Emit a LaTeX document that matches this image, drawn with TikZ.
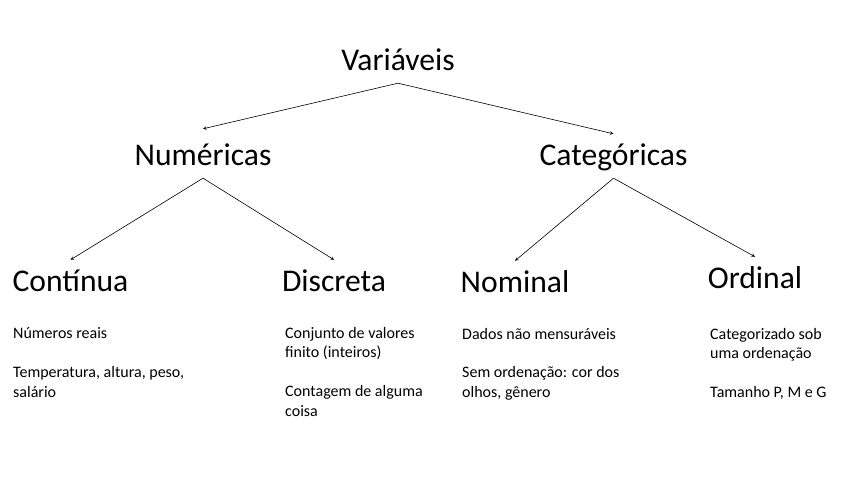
\documentclass[tikz,border=0pt]{standalone}
\usepackage{fontspec}
\setmainfont{Carlito}
\usetikzlibrary{positioning}

\begin{document}
\begin{tikzpicture} [x=1pt, y=-1pt,
            level/.style = {font=\fontsize{31.6}{38}\selectfont,
                anchor=base,
                inner xsep=0pt, inner ysep=12pt,
                text height=20pt, text depth=0pt},
            note/.style = {font=\fontsize{16}{19.4}\selectfont,
                anchor=base west,
                align=left,
                inner sep=0pt}]

            \useasboundingbox (0,0) rectangle (849,478);

            % Root
            \node (var) [level] at (398,71) {Variáveis};

            % Second level
            \node (num) [level] at (203,166) {Numéricas};
            \node (cat) [level] at (613.5,166) {Categóricas};

            % Third level
            \node (cont) [level] at (70.5,292) {Contínua};
            \node (disc) [level] at (334,292) {Discreta};
            \node (nomi) [level] at (515,293) {Nominal};
            \node (ordi) [level] at (755,289) {Ordinal};

            % Notes (placed at the baseline of their last line)
            \node (contA) [note] at (13,339) {Números reais};
            \node (contB) [note] at (13,397) {Temperatura, altura, peso,\\salário};
            \node (discA) [note] at (285,358) {Conjunto de valores\\finito (inteiros)};
            \node (discB) [note] at (285,416) {Contagem de alguma\\coisa};
            \node (nomiA) [note] at (462,340) {Dados não mensuráveis};
            \node (nomiB) [note] at (462,397) {Sem ordenação: cor dos\\olhos, gênero};
            \node (ordiA) [note] at (710,359) {Categorizado sob\\uma ordenação};
            \node (ordiB) [note] at (710,397) {Tamanho P, M e G};

            % Arrows
            \path [-stealth, line width=0.6pt]
                (var.south) edge ([yshift=5pt]num.north)
                (var.south) edge (cat.north)
                (num.south) edge (cont.north)
                (num.south) edge (disc.north)
                (cat.south) edge (nomi.north)
                (cat.south) edge (ordi.north);
        \end{tikzpicture}
\end{document}
